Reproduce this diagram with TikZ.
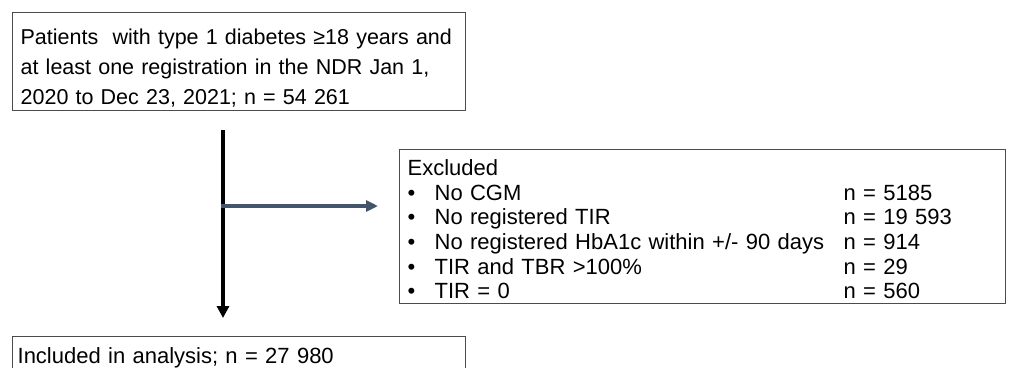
\documentclass[tikz,border=0pt]{standalone}
\usepackage{fontspec}
\setmainfont{Liberation Sans}
\usetikzlibrary{arrows.meta}
\definecolor{slate}{HTML}{44546A}
\tikzset{
  box/.style={draw=black!70, line width=1.3pt, inner sep=0pt, anchor=north west,
    align=left, font=\fontsize{22}{30}\selectfont},
  mainflow/.style={line width=4pt, -{Triangle[length=12pt,width=12pt]}},
  sideflow/.style={line width=4pt, slate, -{Triangle[length=12pt,width=11pt]}}
}
\newcommand{\exitem}[2]{\makebox[27pt][l]{\textbullet}\makebox[409pt][l]{#1}#2}
\begin{document}
\begin{tikzpicture}[x=1pt,y=-1pt]
  \useasboundingbox (0,0) rectangle (1014,367);
  \clip (0,0) rectangle (1014,367);

  % Boxes
  \node[box, font=\fontsize{21.5}{30}\selectfont, text width=437pt, inner xsep=8pt,
    text height=32pt, text depth=66pt] (patients) at (12,12)
    {\mbox{Patients~ with type 1 diabetes ≥18 years and}\\
     at least one registration in the NDR Jan 1,\\
     2020 to Dec 23, 2021; n = 54 261};
  \node[box, font=\fontsize{22}{24.6}\selectfont, text width=590pt, inner xsep=8pt,
    text height=26pt, text depth=128pt] (excluded) at (399,149)
    {Excluded\\
     \exitem{No CGM}{n = 5185}\\
     \exitem{No registered TIR}{n = 19 593}\\
     \exitem{No registered HbA1c within +/- 90 days}{n = 914}\\
     \exitem{TIR and TBR >100\%}{n = 29}\\
     \exitem{TIR = 0}{n = 560}};
  \node[box, text width=443pt, inner xsep=5pt, text height=27pt, text depth=50pt]
    (included) at (12,336) {Included in analysis; n = 27 980};

  % Arrows
  \coordinate (flowtop) at (223,130);
  \coordinate (flowend) at (223,318);
  \coordinate (split) at (221,206);
  \coordinate (exend) at (378,206);
  \draw[mainflow] (flowtop) -- (flowend);
  \draw[sideflow] (split) -- (exend);
\end{tikzpicture}
\end{document}
